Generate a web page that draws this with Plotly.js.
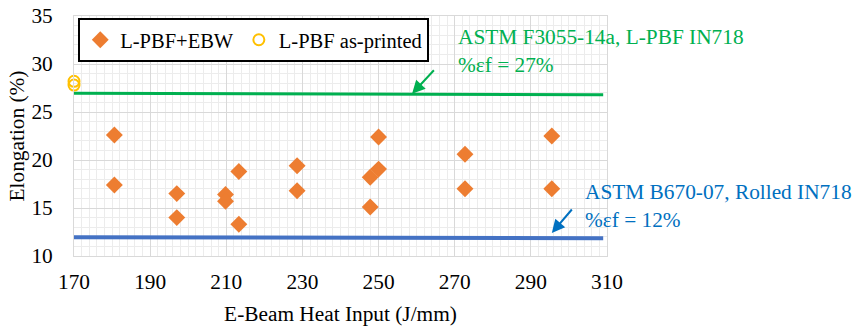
<!DOCTYPE html>
<html>
<head>
<meta charset="utf-8">
<script src="https://cdn.plot.ly/plotly-3.0.1.min.js"></script>
<style>html,body{margin:0;padding:0;background:#fff;}#chart{width:859px;height:326px;}</style>
</head>
<body>
<div id="chart"></div>
<script>
// L-PBF+EBW specimens
var ebwHeatInput = [180.6, 180.6, 197.0, 197.0, 209.8, 209.8, 213.3, 213.3, 228.6, 228.6, 247.8, 250.0, 250.0, 247.8, 272.7, 272.7, 295.5, 295.5];
var ebwElongation = [22.6, 17.4, 16.5, 14.0, 16.4, 15.7, 18.8, 13.3, 19.4, 16.8, 18.2, 19.05, 22.4, 15.1, 20.6, 17.0, 22.5, 17.0];
// L-PBF as-printed
var printedHeatInput = [170, 170];
var printedElongation = [28.2, 27.8];
// Standard requirement lines
var stdLineX = [170, 309];
var astmF3055 = [26.95, 26.8];
var astmB670 = [11.95, 11.85];

var font = "'Liberation Serif', 'Times New Roman', 'DejaVu Serif', serif";
var fs = 21.33;

var traces = [
  {x: stdLineX, y: astmF3055, mode: 'lines', line: {color: '#00B050', width: 3}, showlegend: false, hoverinfo: 'skip'},
  {x: stdLineX, y: astmB670, mode: 'lines', line: {color: '#4472C4', width: 4}, showlegend: false, hoverinfo: 'skip'},
  {x: ebwHeatInput, y: ebwElongation, mode: 'markers', name: 'L-PBF+EBW',
   marker: {symbol: 'diamond', size: 13, color: '#ED7D31'}},
  {x: printedHeatInput, y: printedElongation, mode: 'markers', name: 'L-PBF as-printed', cliponaxis: false,
   marker: {symbol: 'circle-open', size: 11, color: '#FFC000', line: {width: 2, color: '#FFC000'}}}
];

var layout = {
  width: 859, height: 326,
  margin: {l: 74, r: 252, t: 16, b: 70},
  paper_bgcolor: '#fff', plot_bgcolor: '#fff',
  font: {family: font, size: fs, color: '#000'},
  showlegend: true,
  legend: {orientation: 'h', x: 0.008, y: 0.992, xanchor: 'left', yanchor: 'top',
           bgcolor: '#fff', bordercolor: '#000', borderwidth: 2,
           font: {family: font, size: 20.5, color: '#000'}, itemwidth: 30},
  xaxis: {range: [170, 310], dtick: 20, tick0: 170, showgrid: true, gridcolor: '#d9d9d9', gridwidth: 1,
          minor: {dtick: 2, showgrid: true, gridcolor: '#ececec', gridwidth: 1},
          showline: true, linecolor: '#d9d9d9', linewidth: 1, mirror: true, zeroline: false,
          ticks: '', ticklabelstandoff: 6, tickfont: {family: font, size: fs, color: '#000'},
          title: {text: 'E-Beam Heat Input (J/mm)', font: {family: font, size: fs, color: '#000'}, standoff: 16}},
  yaxis: {range: [10, 35], dtick: 5, showgrid: true, gridcolor: '#d9d9d9', gridwidth: 1,
          minor: {dtick: 1, showgrid: true, gridcolor: '#ececec', gridwidth: 1},
          showline: true, linecolor: '#d9d9d9', linewidth: 1, mirror: true, zeroline: false,
          ticks: '', ticklabelstandoff: 16, tickfont: {family: font, size: fs, color: '#000'},
          title: {text: 'Elongation (%)', font: {family: font, size: fs, color: '#000'}, standoff: 0}},
  annotations: [
    {xref: 'paper', yref: 'paper', x: 0.717, y: 0.855, xanchor: 'left', yanchor: 'middle', align: 'left',
     text: 'ASTM F3055-14a, L-PBF IN718<br>%εf = 27%', showarrow: false,
     font: {family: font, size: fs, color: '#00B050'}},
    {xref: 'paper', yref: 'paper', x: 0.955, y: 0.209, xanchor: 'left', yanchor: 'middle', align: 'left',
     text: 'ASTM B670-07, Rolled IN718<br>%εf = 12%', showarrow: false,
     font: {family: font, size: fs, color: '#0070C0'}},
    {xref: 'x', yref: 'y', axref: 'x', ayref: 'y', x: 258.8, y: 26.9, ax: 264.9, ay: 29.5, text: '',
     showarrow: true, arrowhead: 2, arrowsize: 1.3, arrowwidth: 2, arrowcolor: '#00B050'},
    {xref: 'x', yref: 'y', axref: 'x', ayref: 'y', x: 295.5, y: 12.4, ax: 301.1, ay: 15.0, text: '',
     showarrow: true, arrowhead: 2, arrowsize: 1.3, arrowwidth: 2, arrowcolor: '#0070C0'}
  ]
};

Plotly.newPlot('chart', traces, layout, {displayModeBar: false, staticPlot: true});
</script>
</body>
</html>
